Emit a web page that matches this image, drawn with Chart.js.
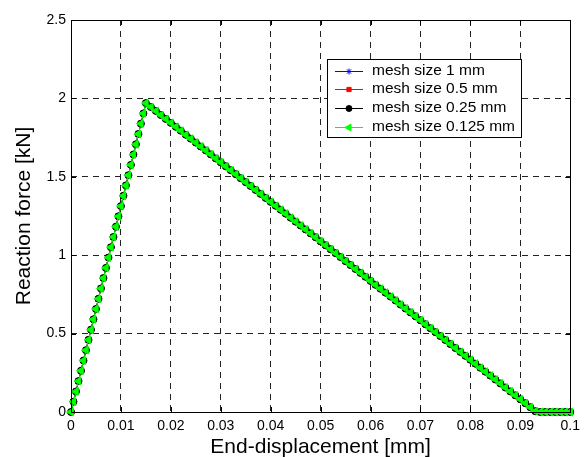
<!DOCTYPE html>
<html>
<head>
<meta charset="utf-8">
<script src="https://cdn.jsdelivr.net/npm/chart.js@4.4.0/dist/chart.umd.min.js"></script>
<style>
  html, body { margin: 0; padding: 0; background: #fff; }
  #wrap { width: 586px; height: 457px; }
</style>
</head>
<body>
<div id="wrap"><canvas id="chart" width="586" height="457"></canvas></div>
<script>
// end displacement [mm]
const displacement = [
  0, 0.0005, 0.001, 0.0015, 0.002, 0.0025, 0.003, 0.0035, 0.004, 0.0045,
  0.005, 0.0055, 0.006, 0.0065, 0.007, 0.0075, 0.008, 0.0085, 0.009, 0.0095,
  0.01, 0.0105, 0.011, 0.0115, 0.012, 0.0125, 0.013, 0.0135, 0.014, 0.0145, 0.015,
  0.016, 0.017, 0.018, 0.019, 0.020, 0.021, 0.022, 0.023, 0.024, 0.025,
  0.026, 0.027, 0.028, 0.029, 0.030, 0.031, 0.032, 0.033, 0.034, 0.035,
  0.036, 0.037, 0.038, 0.039, 0.040, 0.041, 0.042, 0.043, 0.044, 0.045,
  0.046, 0.047, 0.048, 0.049, 0.050, 0.051, 0.052, 0.053, 0.054, 0.055,
  0.056, 0.057, 0.058, 0.059, 0.060, 0.061, 0.062, 0.063, 0.064, 0.065,
  0.066, 0.067, 0.068, 0.069, 0.070, 0.071, 0.072, 0.073, 0.074, 0.075,
  0.076, 0.077, 0.078, 0.079, 0.080, 0.081, 0.082, 0.083, 0.084, 0.085,
  0.086, 0.087, 0.088, 0.089, 0.090, 0.091, 0.092, 0.093, 0.094, 0.095,
  0.096, 0.097, 0.098, 0.099, 0.1
];

// reaction force [kN] - all four meshes lie on top of each other
const force = [
  0, 0.066, 0.131, 0.197, 0.263, 0.328, 0.394, 0.460, 0.525, 0.591,
  0.657, 0.722, 0.788, 0.854, 0.919, 0.985, 1.051, 1.116, 1.182, 1.248,
  1.313, 1.379, 1.445, 1.510, 1.576, 1.642, 1.707, 1.773, 1.839, 1.904, 1.970,
  1.945, 1.920, 1.894, 1.869, 1.844, 1.819, 1.794, 1.768, 1.743, 1.718,
  1.693, 1.668, 1.643, 1.617, 1.592, 1.567, 1.542, 1.517, 1.491, 1.466,
  1.441, 1.416, 1.391, 1.365, 1.340, 1.315, 1.290, 1.265, 1.239, 1.214,
  1.189, 1.164, 1.139, 1.114, 1.088, 1.063, 1.038, 1.013, 0.988, 0.962,
  0.937, 0.912, 0.887, 0.862, 0.836, 0.811, 0.786, 0.761, 0.736, 0.711,
  0.685, 0.660, 0.635, 0.610, 0.585, 0.559, 0.534, 0.509, 0.484, 0.459,
  0.433, 0.408, 0.383, 0.358, 0.333, 0.308, 0.282, 0.257, 0.232, 0.207,
  0.182, 0.156, 0.131, 0.106, 0.081, 0.056, 0.030, 0.005, 0, 0,
  0, 0, 0, 0, 0
];

const meshLabels = ['mesh size 1 mm', 'mesh size 0.5 mm', 'mesh size 0.25 mm', 'mesh size 0.125 mm'];
const xTickValues = [0, 0.01, 0.02, 0.03, 0.04, 0.05, 0.06, 0.07, 0.08, 0.09, 0.1];
const yTickValues = [0, 0.5, 1, 1.5, 2, 2.5];

const FONT = 'Liberation Sans, Arial, Helvetica, sans-serif';

const markers = [
  { color: '#0000ff', pointStyle: 'star', radius: 3.5, rotation: 0 },
  { color: '#ff0000', pointStyle: 'rect', radius: 3.5, rotation: 0 },
  { color: '#000000', pointStyle: 'circle', radius: 3.5, rotation: 0 },
  { color: '#00ff00', pointStyle: 'triangle', radius: 4.5, rotation: -90 }
];

const points = displacement.map((d, i) => ({ x: d, y: force[i] }));

const datasets = meshLabels.map((label, i) => ({
  label,
  data: points,
  borderColor: markers[i].color,
  backgroundColor: markers[i].color,
  borderWidth: 1,
  pointStyle: markers[i].pointStyle,
  pointRadius: markers[i].radius,
  pointRotation: markers[i].rotation,
  pointBorderWidth: 1,
  pointBackgroundColor: markers[i].color,
  pointBorderColor: markers[i].color,
  order: meshLabels.length - 1 - i,   // finest mesh drawn on top
  clip: false,
  tension: 0
}));

const fmt = v => String(+Number(v).toFixed(3));

// matlab style frame with inward ticks
const framePlugin = {
  id: 'frame',
  afterDraw(chart) {
    const { ctx, chartArea: a, scales } = chart;
    ctx.save();
    ctx.strokeStyle = '#000';
    ctx.lineWidth = 1;
    ctx.beginPath();
    xTickValues.forEach(v => {
      const px = Math.round(scales.x.getPixelForValue(v)) + 0.5;
      ctx.moveTo(px, a.bottom); ctx.lineTo(px, a.bottom - 5);
      ctx.moveTo(px, a.top); ctx.lineTo(px, a.top + 5);
    });
    yTickValues.forEach(v => {
      const py = Math.round(scales.y.getPixelForValue(v)) + 0.5;
      ctx.moveTo(a.left, py); ctx.lineTo(a.left + 5, py);
      ctx.moveTo(a.right, py); ctx.lineTo(a.right - 5, py);
    });
    ctx.stroke();
    ctx.strokeRect(Math.round(a.left) + 0.5, Math.round(a.top) + 0.5,
      Math.round(a.right - a.left), Math.round(a.bottom - a.top));
    ctx.restore();
  }
};

const legendPlugin = {
  id: 'boxLegend',
  afterDraw(chart) {
    const ctx = chart.ctx;
    const left = 327, top = 59, rowH = 18.7, textX = 372;
    ctx.save();
    ctx.font = '15.5px ' + FONT;
    const w = Math.max(...meshLabels.map(t => ctx.measureText(t).width));
    const right = textX + w + 6, bottom = top + 78;
    ctx.fillStyle = '#fff';
    ctx.fillRect(left, top, right - left, bottom - top);
    ctx.strokeStyle = '#000';
    ctx.lineWidth = 1;
    ctx.strokeRect(left + 0.5, top + 0.5, right - left, bottom - top);
    meshLabels.forEach((label, i) => {
      const y = top + 11.5 + i * rowH;
      const m = markers[i];
      ctx.strokeStyle = m.color;
      ctx.fillStyle = m.color;
      ctx.beginPath();
      ctx.moveTo(335, Math.round(y) + 0.5);
      ctx.lineTo(363, Math.round(y) + 0.5);
      ctx.stroke();
      Chart.helpers.drawPoint(ctx, {
        pointStyle: m.pointStyle, radius: m.radius - 0.5, rotation: m.rotation, borderWidth: 1
      }, 349, Math.round(y) + 0.5);
      ctx.fillStyle = '#000';
      ctx.textBaseline = 'middle';
      ctx.textAlign = 'left';
      ctx.fillText(label, textX, y);
    });
    ctx.restore();
  }
};

new Chart(document.getElementById('chart'), {
  type: 'line',
  data: { datasets },
  plugins: [framePlugin, legendPlugin],
  options: {
    responsive: false,
    animation: false,
    layout: { padding: 0 },
    plugins: { legend: { display: false }, tooltip: { enabled: false } },
    scales: {
      x: {
        type: 'linear', position: 'bottom', min: 0, max: 0.1,
        afterBuildTicks: s => { s.ticks = xTickValues.map(v => ({ value: v })); },
        afterFit: s => { s.height = 45; },
        grid: { color: '#222', lineWidth: 1, drawTicks: false },
        border: { display: false, dash: [6, 5] },
        ticks: {
          padding: 6, color: '#000', maxRotation: 0, autoSkip: false,
          font: { family: FONT, size: 14 }, callback: v => fmt(v)
        },
        title: {
          display: true, text: 'End-displacement [mm]', color: '#000',
          font: { family: FONT, size: 21, lineHeight: 0.9 }, padding: { top: 0, bottom: 0 }
        }
      },
      y: {
        type: 'linear', position: 'left', min: 0, max: 2.5,
        afterBuildTicks: s => { s.ticks = yTickValues.map(v => ({ value: v })); },
        afterFit: s => { s.width = 71; },
        grid: { color: '#222', lineWidth: 1, drawTicks: false },
        border: { display: false, dash: [6, 5] },
        ticks: {
          padding: 5, color: '#000',
          font: { family: FONT, size: 14 }, callback: v => fmt(v)
        },
        title: {
          display: true, text: 'Reaction force [kN]', color: '#000',
          font: { family: FONT, size: 21, lineHeight: 1 }, padding: { top: 14, bottom: 0 }
        }
      },
      x2: {
        type: 'linear', position: 'top', display: true,
        grid: { display: false }, ticks: { display: false }, border: { display: false },
        afterFit: s => { s.height = 20; }
      },
      y2: {
        type: 'linear', position: 'right', display: true,
        grid: { display: false }, ticks: { display: false }, border: { display: false },
        afterFit: s => { s.width = 15; }
      }
    }
  }
});
</script>
</body>
</html>
